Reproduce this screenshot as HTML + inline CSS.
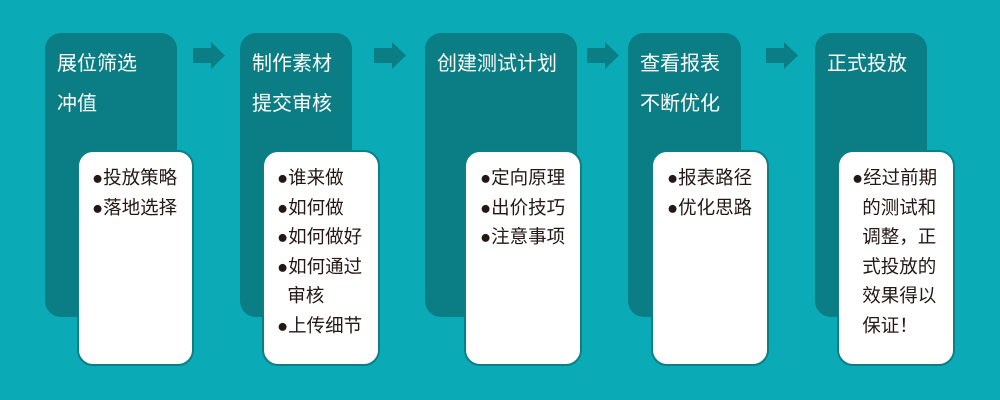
<!DOCTYPE html>
<html><head><meta charset="utf-8"><style>
body{margin:0;width:1000px;height:400px;background:#0aabb6;position:relative;overflow:hidden;font-family:"Liberation Sans","Noto Sans CJK SC",sans-serif}
.c{position:absolute;top:33px;height:284px;background:#0a7e84;border-radius:16px;color:#fff;font-size:20px}
.c div{position:absolute;left:12px;white-space:nowrap}
.w{position:absolute;top:150px;height:216px;background:#fff;border:2px solid #0b7f85;border-radius:16px;box-sizing:border-box;color:#231815;font-size:18.5px;line-height:29.5px;padding:11px 0 0 13px;white-space:nowrap}
.w span{display:inline-block;width:1px}
.a{position:absolute;top:42px}
</style></head><body>
<div class="c" style="left:45px;width:132px"><div style="top:14px">展位筛选</div><div style="top:54px">冲值</div></div>
<div class="c" style="left:240px;width:112px"><div style="top:14px">制作素材</div><div style="top:54px">提交审核</div></div>
<div class="c" style="left:425px;width:152px"><div style="top:14px">创建测试计划</div></div>
<div class="c" style="left:628px;width:113px"><div style="top:14px">查看报表</div><div style="top:54px">不断优化</div></div>
<div class="c" style="left:815px;width:112px"><div style="top:14px">正式投放</div></div>

<div class="w" style="left:77px;width:117px">●投放策略<br>●落地选择</div>
<div class="w" style="left:262px;width:118px">●谁来做<br>●如何做<br>●如何做好<br>●如何通过<br>&nbsp;&nbsp;审核<br>●上传细节</div>
<div class="w" style="left:464px;width:118px;padding-left:14px">●定向原理<br>●出价技巧<br>●注意事项</div>
<div class="w" style="left:651px;width:118px;padding-left:14px">●报表路径<br>●优化思路</div>
<div class="w" style="left:837px;width:118px;padding-left:13px">●经过前期<br>&nbsp;&nbsp;的测试和<br>&nbsp;&nbsp;调整，正<br>&nbsp;&nbsp;式投放的<br>&nbsp;&nbsp;效果得以<br>&nbsp;&nbsp;保证！</div>

<svg class="a" style="left:193px" width="33" height="28"><polygon points="0,6 18,6 18,0 32,13.5 18,27 18,21 0,21" fill="#0a7e84"/></svg>
<svg class="a" style="left:374px" width="33" height="28"><polygon points="0,6 18,6 18,0 32,13.5 18,27 18,21 0,21" fill="#0a7e84"/></svg>
<svg class="a" style="left:587px" width="33" height="28"><polygon points="0,6 18,6 18,0 32,13.5 18,27 18,21 0,21" fill="#0a7e84"/></svg>
<svg class="a" style="left:766px" width="33" height="28"><polygon points="0,6 18,6 18,0 32,13.5 18,27 18,21 0,21" fill="#0a7e84"/></svg>
</body></html>
